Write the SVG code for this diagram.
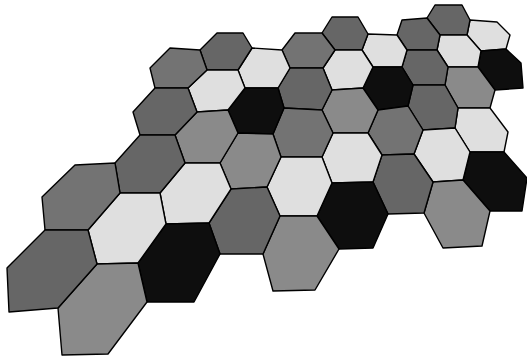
<svg xmlns="http://www.w3.org/2000/svg" width="527" height="360" viewBox="0 0 527 360">
<style>
polygon{stroke:#000;stroke-width:1.4;stroke-linejoin:round}
.k{fill:#0e0e0e}.d{fill:#666666}.m{fill:#737373}.g{fill:#8a8a8a}.l{fill:#dfdfdf}
</style>
<rect width="527" height="360" fill="#fff"/>
<g id="hexmap">
<g id="h1_0"><polygon class="l" points="470,20 497,22 510,35 506,49 481,51 467,35"/></g>
<g id="h1_m1"><polygon class="k" points="481,51 506,49 521,63 523,88 495,90 478,67"/></g>
<g id="h0_0"><polygon class="d" points="435,5 462,5 470,20 467,35 440,35 427,18"/></g>
<g id="h0_m1"><polygon class="l" points="440,35 467,35 481,51 478,67 448,67 437,50"/></g>
<g id="h0_m2"><polygon class="g" points="448,67 478,67 495,90 490,108 458,108 445,85"/></g>
<g id="h0_m3"><polygon class="l" points="458,108 490,108 508,132 504,152 470,152 455,128"/></g>
<g id="h0_m4"><polygon class="k" points="470,152 504,152 527,178 522,211 490,211 463,180"/></g>
<g id="hm1_m1"><polygon class="d" points="402,20 427,18 440,35 437,50 407,50 397,35"/></g>
<g id="hm1_m2"><polygon class="d" points="407,50 437,50 448,67 445,85 413,85 402,67"/></g>
<g id="hm1_m3"><polygon class="d" points="413,85 445,85 458,108 455,128 423,130 408,106"/></g>
<g id="hm1_m4"><polygon class="l" points="423,130 455,128 470,152 463,180 433,182 414,154"/></g>
<g id="hm1_m5"><polygon class="g" points="433,182 463,180 490,211 482,246 443,248 424,213"/></g>
<g id="hm2_m2"><polygon class="l" points="368,34 397,35 407,50 402,67 373,67 362,50"/></g>
<g id="hm2_m3"><polygon class="k" points="373,67 402,67 413,85 408,106 378,110 363,88"/></g>
<g id="hm2_m4"><polygon class="m" points="378,110 408,106 423,130 414,154 382,155 368,133"/></g>
<g id="hm2_m5"><polygon class="d" points="382,155 414,154 433,182 424,213 388,214 373,182"/></g>
<g id="hm3_m2"><polygon class="d" points="332,17 358,17 368,34 362,50 335,50 322,33"/></g>
<g id="hm3_m3"><polygon class="l" points="335,50 362,50 373,67 363,88 332,90 323,68"/></g>
<g id="hm3_m4"><polygon class="g" points="332,90 363,88 378,110 368,133 333,133 322,110"/></g>
<g id="hm3_m5"><polygon class="l" points="333,133 368,133 382,155 373,182 332,183 322,157"/></g>
<g id="hm3_m6"><polygon class="k" points="332,183 373,182 388,214 373,248 339,249 317,216"/></g>
<g id="hm4_m3"><polygon class="m" points="295,33 322,33 335,50 323,68 290,68 282,50"/></g>
<g id="hm4_m4"><polygon class="d" points="290,68 323,68 332,90 322,110 284,108 278,88"/></g>
<g id="hm4_m5"><polygon class="m" points="284,108 322,110 333,133 322,157 281,157 273,134"/></g>
<g id="hm4_m6"><polygon class="l" points="281,157 322,157 332,183 317,216 280,216 267,187"/></g>
<g id="hm4_m7"><polygon class="g" points="280,216 317,216 339,249 315,290 273,291 263,254"/></g>
<g id="hm5_m4"><polygon class="l" points="252,48 282,50 290,68 278,88 245,88 238,70"/></g>
<g id="hm5_m5"><polygon class="k" points="245,88 278,88 284,108 273,134 238,133 228,110"/></g>
<g id="hm5_m6"><polygon class="g" points="238,133 273,134 281,157 267,187 231,189 220,163"/></g>
<g id="hm5_m7"><polygon class="d" points="231,189 267,187 280,216 263,254 220,254 209,223"/></g>
<g id="hm6_m4"><polygon class="d" points="217,33 243,33 252,48 238,70 207,70 200,50"/></g>
<g id="hm6_m5"><polygon class="l" points="207,70 238,70 245,88 228,110 197,112 188,88"/></g>
<g id="hm6_m6"><polygon class="g" points="197,112 228,110 238,133 220,163 185,163 175,135"/></g>
<g id="hm6_m7"><polygon class="l" points="185,163 220,163 231,189 209,223 166,224 160,193"/></g>
<g id="hm6_m8"><polygon class="k" points="166,224 209,223 220,254 194,302 147,302 138,263"/></g>
<g id="hm7_m5"><polygon class="m" points="170,48 200,50 207,70 188,88 155,88 150,68"/></g>
<g id="hm7_m6"><polygon class="d" points="155,88 188,88 197,112 175,135 140,135 133,112"/></g>
<g id="hm7_m7"><polygon class="d" points="140,135 175,135 185,163 160,193 120,193 115,163"/></g>
<g id="hm7_m8"><polygon class="l" points="120,193 160,193 166,224 138,263 97,264 88,230"/></g>
<g id="hm7_m9"><polygon class="g" points="97,264 138,263 147,302 108,354 62,355 58,308"/></g>
<g id="hm8_m8"><polygon class="m" points="75,165 115,163 120,193 88,230 45,230 42,197"/></g>
<g id="hm8_m9"><polygon class="d" points="45,230 88,230 97,264 58,308 9,312 7,268"/></g>
</g>
<g id="connectors"/>
</svg>
